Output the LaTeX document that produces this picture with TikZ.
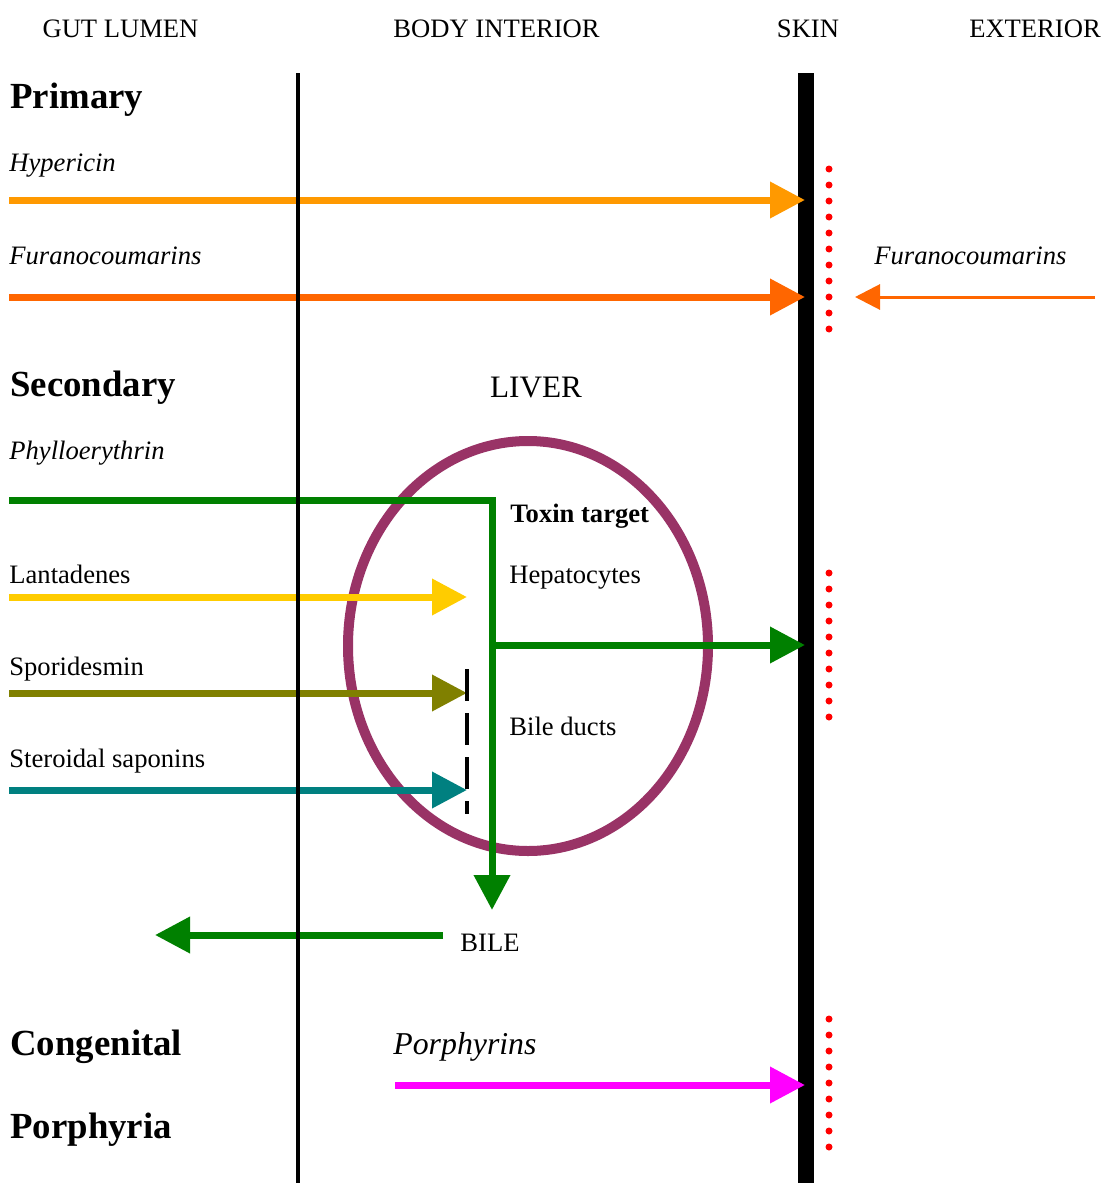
\documentclass[tikz,border=0pt]{standalone}
\usepackage{fontspec}
\setmainfont{Liberation Serif}
\usetikzlibrary{arrows.meta,positioning}
\definecolor{HypOrange}{HTML}{FF9900}
\definecolor{FurOrange}{HTML}{FF6600}
\definecolor{PhylGreen}{HTML}{008000}
\definecolor{LantYellow}{HTML}{FFCC00}
\definecolor{SporOlive}{HTML}{808000}
\definecolor{SapoTeal}{HTML}{008080}
\definecolor{LiverPlum}{HTML}{993366}
\definecolor{PorphMagenta}{HTML}{FF00FF}

\begin{document}
\begin{tikzpicture}[
      x=0.5pt,y=-0.5pt,
      zone/.style={anchor=base,inner sep=0pt,font=\fontsize{13.3}{16}\selectfont},
      heading/.style={anchor=base west,inner sep=0pt,
        font=\fontsize{18.4}{22}\selectfont\bfseries},
      toxin/.style={anchor=base west,inner sep=0pt,
        font=\fontsize{13.3}{16}\selectfont\itshape},
      plaintext/.style={anchor=base west,inner sep=0pt,
        font=\fontsize{13.3}{16}\selectfont},
      flow/.style={-{Triangle[length=17.5pt,width=17.5pt]},line width=3.5pt},
      thinflow/.style={-{Triangle[length=12.5pt,width=12.5pt]},line width=1.5pt},
      membrane/.style={line width=2pt,black},
      skinwall/.style={line width=8pt,black},
      dotmark/.style={fill=red,draw=none}
    ]
      \useasboundingbox (0,0) rectangle (1102,1183);

      \node[zone] (gut) at (120.5,37) {GUT LUMEN};
      \node[zone] (body) at (496.5,37) {BODY INTERIOR};
      \node[zone] (skin) at (808,37) {SKIN};
      \node[zone] (exterior) at (1035,37) {EXTERIOR};

      \node[heading] (primary) at (10,108) {Primary};
      \node[toxin] (hyp) at (9,171) {Hypericin};
      \node[toxin] (furin) at (9,264) {Furanocoumarins};
      \node[toxin] (furout) at (874,264) {Furanocoumarins};
      \node[heading] (secondary) at (10,396) {Secondary};
      \node[zone,font=\fontsize{15.6}{18}\selectfont] (liver) at (536,397) {LIVER};
      \node[toxin] (phyl) at (9,459) {Phylloerythrin};
      \node[plaintext,font=\fontsize{13.3}{16}\selectfont\bfseries] (target) at (510,522) {Toxin target};
      \node[plaintext] (lant) at (9,583) {Lantadenes};
      \node[plaintext] (hepa) at (509,583) {Hepatocytes};
      \node[plaintext] (spor) at (9,675) {Sporidesmin};
      \node[plaintext] (ducts) at (509,735) {Bile ducts};
      \node[plaintext] (sapo) at (9,767) {Steroidal saponins};
      \node[zone] (bile) at (490,951) {BILE};
      \node[heading] (cong) at (10,1055) {Congenital};
      \node[toxin,font=\fontsize{15.9}{19}\selectfont\itshape] (porph) at (393,1054) {Porphyrins};
      \node[heading] (porphyria) at (10,1138) {Porphyria};

      \coordinate (guttop) at (298,73);
      \coordinate (gutbot) at (298,1183);
      \coordinate (skintop) at (805.5,73);
      \coordinate (skinbot) at (805.5,1183);
      \coordinate (hyps) at (9,200);
      \coordinate (hype) at (805,200);
      \coordinate (furs) at (9,297);
      \coordinate (fure) at (805,297);
      \coordinate (exts) at (1095,297);
      \coordinate (exte) at (855,297);
      \coordinate (phyls) at (9,500);
      \coordinate (bilein) at (492,910);
      \coordinate (branch) at (492,645);
      \coordinate (phyle) at (805,645);
      \coordinate (lants) at (9,597);
      \coordinate (lante) at (467,597);
      \coordinate (spors) at (9,693);
      \coordinate (spore) at (467,693);
      \coordinate (sapos) at (9,790);
      \coordinate (sapoe) at (467,790);
      \coordinate (blocktop) at (467,669);
      \coordinate (blockbot) at (467,814);
      \coordinate (biles) at (443,935);
      \coordinate (bilee) at (155,935);
      \coordinate (porphs) at (395,1085);
      \coordinate (porphe) at (805,1085);

      \draw[LiverPlum,line width=5pt] (528,646) ellipse [x radius=180, y radius=205];
      \draw[skinwall] (skintop) -- (skinbot);

      \foreach \y in {169,185,...,329} \fill[dotmark] (829,\y) circle (1.75pt);
      \foreach \y in {573,589,...,717} \fill[dotmark] (829,\y) circle (1.75pt);
      \foreach \y in {1019,1035,...,1147} \fill[dotmark] (829,\y) circle (1.75pt);

      \draw[flow,HypOrange] (hyps) -- (hype);
      \draw[flow,FurOrange] (furs) -- (fure);
      \draw[thinflow,FurOrange] (exts) -- (exte);
      \draw[flow,PhylGreen] (phyls) -| (bilein);
      \draw[flow,PhylGreen] (branch) -- (phyle);
      \draw[flow,LantYellow] (lants) -- (lante);
      \draw[flow,SporOlive] (spors) -- (spore);
      \draw[flow,SapoTeal] (sapos) -- (sapoe);
      \draw[flow,PhylGreen] (biles) -- (bilee);
      \draw[flow,PorphMagenta] (porphs) -- (porphe);

      \draw[membrane] (guttop) -- (gutbot);
      \draw[membrane,dash pattern=on 16pt off 6pt] (blocktop) -- (blockbot);
    \end{tikzpicture}
\end{document}
